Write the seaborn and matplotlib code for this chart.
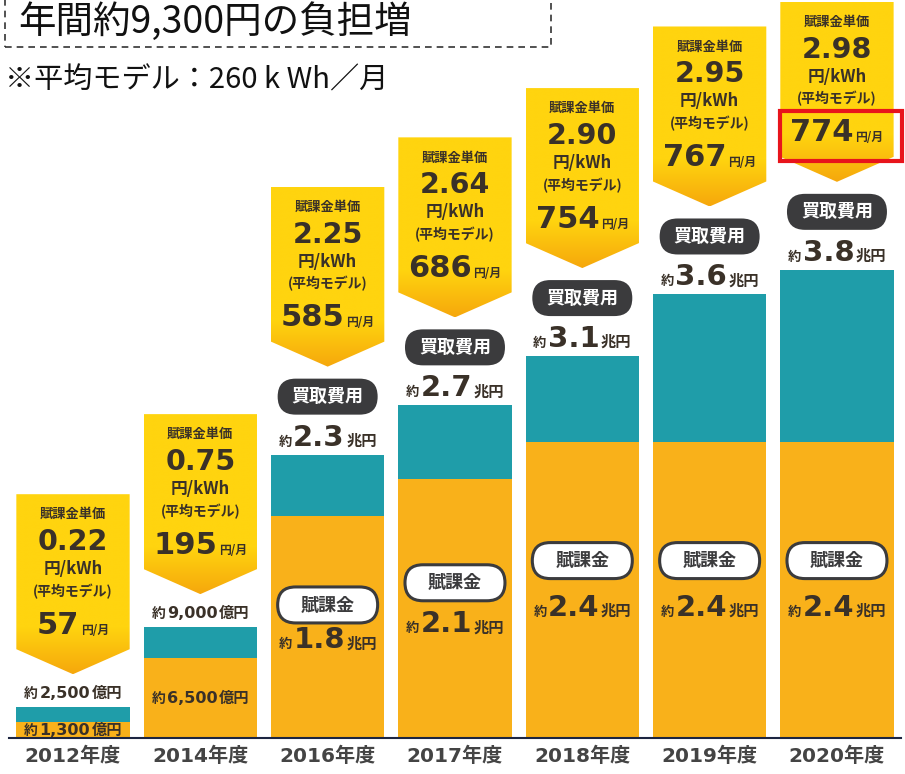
import numpy as np
import pandas as pd
import seaborn as sns
import matplotlib.pyplot as plt
from matplotlib.patches import Polygon, FancyBboxPatch, Rectangle
from matplotlib.offsetbox import TextArea, HPacker, AnnotationBbox
from matplotlib.colors import LinearSegmentedColormap

# data (兆円)
years = ['2012年度', '2014年度', '2016年度', '2017年度', '2018年度', '2019年度', '2020年度']
levy = [0.13, 0.65, 1.8, 2.1, 2.4, 2.4, 2.4]          # 賦課金
purchase = [0.25, 0.9, 2.3, 2.7, 3.1, 3.6, 3.8]       # 買取費用
levy_txt = ['1,300', '6,500', '1.8', '2.1', '2.4', '2.4', '2.4']
purchase_txt = ['2,500', '9,000', '2.3', '2.7', '3.1', '3.6', '3.8']
unit_txt = ['億円', '億円', '兆円', '兆円', '兆円', '兆円', '兆円']
unit_price = ['0.22', '0.75', '2.25', '2.64', '2.90', '2.95', '2.98']
monthly = ['57', '195', '585', '686', '754', '767', '774']

ORANGE = '#F9B11A'
TEAL = '#1F9DA9'
YELLOW = '#FFD40F'
ARROW = '#F6A80C'
DARK = '#3a3128'
PILL = '#3b3b3d'
JP = ['Noto Sans CJK JP', 'DejaVu Sans']
NUM = ['DejaVu Sans', 'Noto Sans CJK JP']

sns.set_theme(style='white')
plt.rcParams['font.family'] = JP

W, H = 905, 774
fig = plt.figure(figsize=(W / 100, H / 100), dpi=100)
ax = fig.add_axes([9.33 / W, 36 / H, 891.3 / W, 738 / H])

df = pd.DataFrame({'year': years, 'levy': levy, 'purchase': purchase})
sns.barplot(data=df, x='year', y='purchase', color=TEAL, saturation=1, width=0.89,
            errorbar=None, linewidth=0, ax=ax)
sns.barplot(data=df, x='year', y='levy', color=ORANGE, saturation=1, width=0.89,
            errorbar=None, linewidth=0, ax=ax)

ymax = 738 / 123.2
ppx = 7 / 891.3
ppy = ymax / 738
cmap = LinearSegmentedColormap.from_list('callout', [ARROW, YELLOW])


def packed(x, y, parts, z=7):
    kids = [TextArea(t, textprops=dict(fontsize=s, fontweight='bold', color=c, family=f))
            for t, s, c, f in parts]
    box = HPacker(children=kids, align='baseline', pad=0, sep=1)
    ab = AnnotationBbox(box, (x, y), xycoords='data', frameon=False,
                        box_alignment=(0.5, 0.5), pad=0, zorder=z, annotation_clip=False)
    ax.add_artist(ab)


def pill(x, y, text, dark=True):
    pw, ph = 100 * ppx, 36 * ppy
    p = FancyBboxPatch((x - pw / 2, y - ph / 2), pw, ph,
                       boxstyle=f'round,pad=0,rounding_size={18 * ppx}',
                       mutation_aspect=ppy / ppx,
                       fc=PILL if dark else 'white', ec=PILL, lw=0 if dark else 2.2, zorder=6)
    ax.add_patch(p)
    ax.text(x, y, text, ha='center', va='center', fontsize=13, fontweight='bold',
            color='white' if dark else PILL, zorder=7)


hw = 0.445
for i in range(len(years)):
    big = unit_txt[i] == '兆円'
    T = purchase[i]

    # purchase cost label + pill
    if big:
        packed(i, T + 17 * ppy, [('約', 9.5, DARK, JP), (purchase_txt[i], 21, DARK, NUM),
                                 (unit_txt[i], 11, DARK, JP)])
        pill(i, T + 58 * ppy, '買取費用')
        tip = T + 88 * ppy
    else:
        packed(i, T + 14 * ppy, [('約', 10, DARK, JP), (purchase_txt[i], 11.5, DARK, NUM),
                                 (unit_txt[i], 11, DARK, JP)])
        tip = T + 33 * ppy

    # levy label
    if big:
        pill(i, levy[i] * 0.6, '賦課金', dark=False)
        packed(i, levy[i] * 0.44, [('約', 9.5, DARK, JP), (levy_txt[i], 21, DARK, NUM),
                                   (unit_txt[i], 11, DARK, JP)])
    else:
        packed(i, levy[i] * 0.5, [('約', 10, DARK, JP), (levy_txt[i], 11.5, DARK, NUM),
                                  (unit_txt[i], 11, DARK, JP)])

    # callout
    top = tip + 180 * ppy
    vstart = tip + 25 * ppy
    verts = [(i - hw, top), (i + hw, top), (i + hw, vstart), (i, tip), (i - hw, vstart)]
    poly = Polygon(verts, closed=True, fc='none', ec='none')
    ax.add_patch(poly)
    yy = np.linspace(tip, top, 200)
    v = np.clip((yy - tip) / (vstart + 22 * ppy - tip), 0, 1).reshape(-1, 1)
    im = ax.imshow(v, extent=(i - hw, i + hw, tip, top), origin='lower', aspect='auto',
                   cmap=cmap, vmin=0, vmax=1, zorder=3, interpolation='bilinear')
    im.set_clip_path(poly)

    ax.text(i, top - 20 * ppy, '賦課金単価', ha='center', va='center', fontsize=9.5,
            fontweight='bold', color=DARK, zorder=7)
    ax.text(i, top - 48 * ppy, unit_price[i], ha='center', va='center', fontsize=20.5,
            fontweight='bold', color=DARK, family=NUM, zorder=7)
    ax.text(i, top - 75 * ppy, '円/kWh', ha='center', va='center', fontsize=12,
            fontweight='bold', color=DARK, zorder=7)
    ax.text(i, top - 97 * ppy, '(平均モデル)', ha='center', va='center', fontsize=10,
            fontweight='bold', color=DARK, zorder=7)
    packed(i, top - 131 * ppy, [(monthly[i], 22, DARK, NUM), ('円/月', 8.5, DARK, JP)])

    if i == len(years) - 1:
        ax.add_patch(Rectangle((i - 0.45, top - 159 * ppy), 0.96, 50 * ppy, fill=False,
                               ec='#E8141B', lw=3, zorder=8, clip_on=False))

ax.set_xlim(-0.5, 6.5)
ax.set_ylim(0, ymax)
ax.set_yticks([])
ax.set_xlabel('')
ax.set_ylabel('')
sns.despine(ax=ax, left=True)
ax.spines['bottom'].set_color('#1c2541')
ax.spines['bottom'].set_linewidth(1.5)
ax.tick_params(axis='x', length=0, pad=6)
for lab in ax.get_xticklabels():
    lab.set_fontsize(14.5)
    lab.set_fontweight('bold')
    lab.set_color('#444444')
    lab.set_family(NUM)

# title and note
fig.text(18 / W, 1 - 22 / H, '年間約9,300円の負担増', fontsize=27, ha='left', va='center',
         color='#111111')
fig.add_artist(Rectangle((5 / W, 1 - 47 / H), 546 / W, 60 / H, transform=fig.transFigure,
                         fill=False, ls=(0, (4, 3)), lw=1.2, ec='#333333'))
fig.text(5 / W, 1 - 80 / H, '※平均モデル：260 k Wh／月', fontsize=21, ha='left', va='center',
         color='#111111')

fig.savefig('out.png', dpi=100)
